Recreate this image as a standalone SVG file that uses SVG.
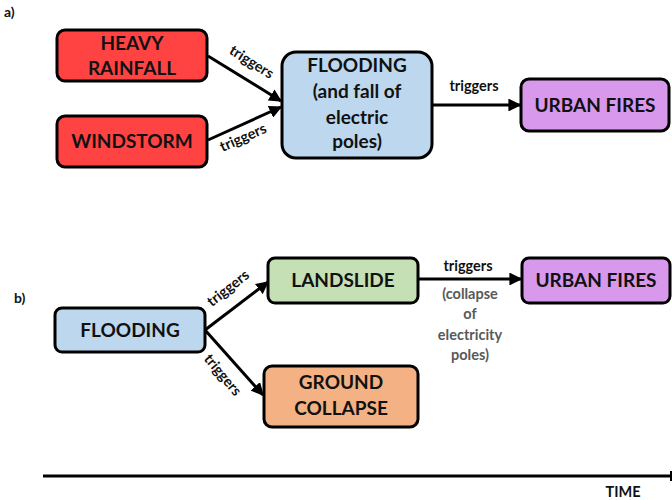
<svg xmlns="http://www.w3.org/2000/svg" width="672" height="500" viewBox="0 0 672 500">
  <style>
    .box { stroke: #000; stroke-width: 3; }
    .lbl { font-family: Lato, "Open Sans", "Liberation Sans", sans-serif; font-weight: bold; font-size: 19px; fill: #111; text-anchor: middle; }
    .edge { stroke: #000; stroke-width: 3; fill: none; marker-end: url(#arrow); }
    .trig { font-family: Lato, "Open Sans", "Liberation Sans", sans-serif; font-weight: bold; font-size: 14.5px; fill: #111; text-anchor: middle; }
    .note { font-family: Lato, "Open Sans", "Liberation Sans", sans-serif; font-weight: bold; font-size: 14.5px; fill: #595959; text-anchor: middle; }
    .panel { font-family: Lato, "Open Sans", "Liberation Sans", sans-serif; font-weight: bold; font-size: 14px; fill: #111; }
    .red { fill: #ff4343; }
    .blue { fill: #bdd7ee; }
    .purple { fill: #d898ec; }
    .green { fill: #c5e0b4; }
    .orange { fill: #f4b183; }
  </style>
  <defs>
    <marker id="arrow" viewBox="0 0 10 10" refX="9" refY="5" markerWidth="4.3" markerHeight="4.3" orient="auto" markerUnits="strokeWidth">
      <path d="M0,0 L10,5 L0,10 z" fill="#000"/>
    </marker>
  </defs>

  <rect width="672" height="500" fill="#fff"/>

  <text class="panel" x="4" y="17">a)</text>
  <text class="panel" x="14" y="303">b)</text>

  <!-- panel a nodes -->
  <g id="heavy-rainfall">
    <rect class="box red" x="57" y="30" width="150" height="51" rx="8"/>
    <text class="lbl" x="132" y="50">HEAVY</text>
    <text class="lbl" x="132" y="75">RAINFALL</text>
  </g>
  <g id="windstorm">
    <rect class="box red" x="57" y="116" width="150" height="51" rx="8"/>
    <text class="lbl" x="132" y="148">WINDSTORM</text>
  </g>
  <g id="flooding-a">
    <rect class="box blue" x="282" y="52" width="150" height="106" rx="14"/>
    <text class="lbl" x="357" y="72">FLOODING</text>
    <text class="lbl" x="357" y="98">(and fall of</text>
    <text class="lbl" x="357" y="124">electric</text>
    <text class="lbl" x="357" y="148">poles)</text>
  </g>
  <g id="urban-fires-a">
    <rect class="box purple" x="521" y="79" width="148" height="52" rx="8"/>
    <text class="lbl" x="595" y="112">URBAN FIRES</text>
  </g>

  <!-- panel b nodes -->
  <g id="flooding-b">
    <rect class="box blue" x="55" y="308" width="150" height="44" rx="7"/>
    <text class="lbl" x="130" y="337">FLOODING</text>
  </g>
  <g id="landslide">
    <rect class="box green" x="268" y="258" width="150" height="45" rx="7"/>
    <text class="lbl" x="343" y="287">LANDSLIDE</text>
  </g>
  <g id="urban-fires-b">
    <rect class="box purple" x="522" y="258" width="148" height="45" rx="7"/>
    <text class="lbl" x="596" y="287">URBAN FIRES</text>
  </g>
  <g id="ground-collapse">
    <rect class="box orange" x="264" y="366" width="154" height="61" rx="8"/>
    <text class="lbl" x="341" y="389">GROUND</text>
    <text class="lbl" x="341" y="415">COLLAPSE</text>
  </g>

  <!-- connectors -->
  <g id="connectors">
    <line class="edge" x1="208" y1="56" x2="281" y2="101"/>
    <line class="edge" x1="208" y1="140" x2="281" y2="107"/>
    <line class="edge" x1="433" y1="105" x2="520" y2="105"/>
    <line class="edge" x1="205" y1="330" x2="268" y2="282"/>
    <line class="edge" x1="205" y1="330" x2="263" y2="395"/>
    <line class="edge" x1="418" y1="279" x2="521" y2="279"/>
    <line stroke="#000" stroke-width="3" x1="43" y1="476" x2="672" y2="476"/>
    <line stroke="#000" stroke-width="2" x1="671" y1="471" x2="671" y2="481"/>

    <text class="trig" transform="translate(249,66) rotate(32)">triggers</text>
    <text class="trig" transform="translate(245,142) rotate(-24)">triggers</text>
    <text class="trig" x="474" y="91">triggers</text>
    <text class="trig" transform="translate(231,292) rotate(-38)">triggers</text>
    <text class="trig" transform="translate(219,378) rotate(50)">triggers</text>
    <text class="trig" x="468" y="271">triggers</text>
    <text class="note" x="470" y="299">(collapse</text>
    <text class="note" x="470" y="319">of</text>
    <text class="note" x="470" y="340">electricity</text>
    <text class="note" x="470" y="360">poles)</text>
    <text class="trig" x="623" y="497">TIME</text>
  </g>
</svg>
